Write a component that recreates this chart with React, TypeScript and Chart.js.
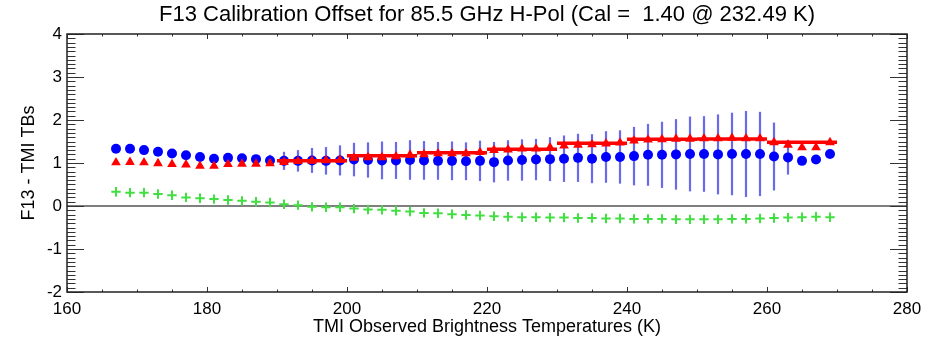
import React, { useEffect, useRef } from 'react';
import { Chart, registerables } from 'chart.js';

Chart.register(...registerables);

const FONT = "'Liberation Sans', Arial, Helvetica, sans-serif";

const titleText = 'F13 Calibration Offset for 85.5 GHz H-Pol (Cal =  1.40 @ 232.49 K)';
const xTitle = 'TMI Observed Brightness Temperatures (K)';
const yTitle = 'F13 - TMI TBs';

const temps = [
  167, 169, 171, 173, 175, 177, 179, 181, 183, 185, 187, 189, 191, 193, 195, 197, 199,
  201, 203, 205, 207, 209, 211, 213, 215, 217, 219, 221, 223, 225, 227, 229, 231, 233,
  235, 237, 239, 241, 243, 245, 247, 249, 251, 253, 255, 257, 259, 261, 263, 265, 267, 269,
];

const blueMeans = [
  1.33, 1.33, 1.30, 1.26, 1.22, 1.18, 1.14, 1.10, 1.12, 1.11, 1.09, 1.06, 1.05, 1.05, 1.06, 1.05, 1.06,
  1.08, 1.07, 1.06, 1.06, 1.07, 1.06, 1.05, 1.05, 1.04, 1.05, 1.02, 1.06, 1.07, 1.08, 1.09, 1.10, 1.12,
  1.10, 1.14, 1.14, 1.16, 1.19, 1.19, 1.20, 1.21, 1.21, 1.20, 1.21, 1.21, 1.21, 1.15, 1.13, 1.05, 1.08, 1.21,
];

const blueErrors: (number | null)[] = [
  null, null, null, null, null, null, null, null, null, null, null, 0.13, 0.21, 0.25, 0.29, 0.32, 0.35,
  0.39, 0.41, 0.44, 0.43, 0.46, 0.45, 0.44, 0.45, 0.44, 0.47, 0.47, 0.47, 0.48, 0.48, 0.51, 0.54, 0.56,
  0.57, 0.60, 0.62, 0.68, 0.72, 0.77, 0.82, 0.87, 0.88, 0.93, 0.96, 1.00, 0.98, 0.79, 0.40, null, null, null,
];

const redValues = [
  1.01, 1.02, 1.01, 0.99, 0.97, 0.96, 0.93, 0.93, 0.97, 0.98, 0.98, 0.99, 1.02, 1.04, 1.05, 1.06, 1.07,
  1.12, 1.13, 1.13, 1.15, 1.19, 1.20, 1.22, 1.22, 1.22, 1.25, 1.30, 1.31, 1.33, 1.33, 1.36, 1.40, 1.42,
  1.43, 1.45, 1.47, 1.52, 1.54, 1.55, 1.56, 1.56, 1.57, 1.57, 1.58, 1.57, 1.57, 1.48, 1.42, 1.36, 1.36, 1.48,
];

const greenValues = [
  0.33, 0.31, 0.31, 0.28, 0.25, 0.20, 0.18, 0.16, 0.14, 0.12, 0.10, 0.08, 0.04, 0.02, -0.02, -0.03, -0.03,
  -0.06, -0.08, -0.09, -0.11, -0.13, -0.16, -0.17, -0.19, -0.21, -0.22, -0.24, -0.25, -0.26, -0.26, -0.27, -0.27, -0.28,
  -0.28, -0.29, -0.29, -0.30, -0.30, -0.30, -0.31, -0.31, -0.31, -0.31, -0.30, -0.30, -0.29, -0.28, -0.27, -0.26, -0.25, -0.26,
];

const binStarts = [190, 200, 210, 220, 230, 240, 250, 260];
const binEnds = [200, 210, 220, 230, 240, 250, 260, 270];
const binValues = [1.05, 1.17, 1.24, 1.32, 1.46, 1.55, 1.56, 1.48];

const xMin = 160;
const xMax = 280;
const yMin = -2;
const yMax = 4;

const plotPlugin = {
  id: 'idlFrame',
  beforeDatasetsDraw(chart: any) {
    const { ctx, chartArea, scales } = chart;
    const xs = scales.x;
    const ys = scales.y;
    ctx.save();
    ctx.strokeStyle = '#000';
    ctx.lineWidth = 1.2;
    ctx.beginPath();
    ctx.moveTo(chartArea.left, ys.getPixelForValue(0));
    ctx.lineTo(chartArea.right, ys.getPixelForValue(0));
    ctx.stroke();
    ctx.strokeStyle = 'rgba(80,80,232,0.85)';
    ctx.lineWidth = 2.2;
    temps.forEach((t, i) => {
      const e = blueErrors[i];
      if (e == null) return;
      const px = xs.getPixelForValue(t);
      ctx.beginPath();
      ctx.moveTo(px, ys.getPixelForValue(blueMeans[i] - e));
      ctx.lineTo(px, ys.getPixelForValue(blueMeans[i] + e));
      ctx.stroke();
    });
    ctx.restore();
  },
  afterDatasetsDraw(chart: any) {
    const { ctx, chartArea, scales } = chart;
    const xs = scales.x;
    const ys = scales.y;
    const { left, right, top, bottom } = chartArea;
    ctx.save();
    ctx.strokeStyle = '#333';
    ctx.lineWidth = 1;
    for (let v = xMin; v <= xMax; v += 5) {
      const px = Math.round(xs.getPixelForValue(v)) + 0.5;
      const len = v % 20 === 0 ? 5 : 2.5;
      ctx.beginPath();
      ctx.moveTo(px, bottom);
      ctx.lineTo(px, bottom - len);
      ctx.moveTo(px, top);
      ctx.lineTo(px, top + len);
      ctx.stroke();
    }
    for (let i = yMin * 10; i <= yMax * 10; i++) {
      const py = Math.round(ys.getPixelForValue(i / 10)) + 0.5;
      const len = i % 10 === 0 ? 17 : 8.5;
      ctx.beginPath();
      ctx.moveTo(left, py);
      ctx.lineTo(left + len, py);
      ctx.moveTo(right, py);
      ctx.lineTo(right - len, py);
      ctx.stroke();
    }
    ctx.strokeStyle = '#222';
    ctx.lineWidth = 1.5;
    ctx.strokeRect(left, top, right - left, bottom - top);
    // title centred over the plot area
    ctx.fillStyle = '#000';
    ctx.font = `22px ${FONT}`;
    ctx.textAlign = 'center';
    ctx.textBaseline = 'middle';
    ctx.fillText(titleText, (left + right) / 2, 15);
    ctx.restore();
  },
};

export default function App() {
  const canvasRef = useRef<HTMLCanvasElement | null>(null);

  useEffect(() => {
    document.body.style.margin = '0';
    const canvas = canvasRef.current;
    if (!canvas) return;

    const stepData: any[] = [];
    binStarts.forEach((s, i) => {
      stepData.push({ x: s, y: binValues[i] });
      stepData.push({ x: binEnds[i], y: binValues[i] });
      stepData.push({ x: binEnds[i], y: null });
    });

    const chart = new Chart(canvas, {
      type: 'scatter',
      data: {
        datasets: [
          {
            type: 'line',
            data: stepData,
            borderColor: '#ff0000',
            borderWidth: 3.5,
            pointRadius: 0,
            spanGaps: false,
            fill: false,
          } as any,
          {
            data: temps.map((t, i) => ({ x: t, y: redValues[i] })),
            pointStyle: 'triangle',
            pointRadius: 5.6,
            backgroundColor: '#ff0000',
            borderColor: '#ff0000',
            borderWidth: 0,
          },
          {
            data: temps.map((t, i) => ({ x: t, y: blueMeans[i] })),
            pointStyle: 'circle',
            pointRadius: 5,
            backgroundColor: '#0000ff',
            borderColor: '#0000ff',
            borderWidth: 0,
          },
          {
            data: temps.map((t, i) => ({ x: t, y: greenValues[i] })),
            pointStyle: 'cross',
            pointRadius: 4.7,
            backgroundColor: '#40e040',
            borderColor: '#40e040',
            borderWidth: 2,
          },
        ],
      },
      options: {
        animation: false,
        responsive: false,
        devicePixelRatio: 1,
        events: [],
        layout: { padding: { left: 0, right: 39, top: 34, bottom: 0 } },
        plugins: {
          legend: { display: false },
          tooltip: { enabled: false },
          title: { display: false },
        },
        scales: {
          x: {
            type: 'linear',
            min: xMin,
            max: xMax,
            grid: { display: false, drawTicks: false },
            border: { display: false },
            ticks: {
              stepSize: 20,
              color: '#000',
              font: { family: FONT, size: 17 },
              padding: 7,
              maxRotation: 0,
              autoSkip: false,
            },
            title: {
              display: true,
              text: xTitle,
              color: '#000',
              font: { family: FONT, size: 18 },
              padding: { top: 0, bottom: 4 },
            },
            afterFit(scale: any) {
              scale.height = 50;
            },
          },
          y: {
            type: 'linear',
            min: yMin,
            max: yMax,
            grid: { display: false, drawTicks: false },
            border: { display: false },
            ticks: {
              stepSize: 1,
              color: '#000',
              font: { family: FONT, size: 17 },
              padding: 5,
              autoSkip: false,
            },
            title: {
              display: true,
              text: yTitle,
              color: '#000',
              font: { family: FONT, size: 18 },
              padding: { top: 18, bottom: 0 },
            },
            afterFit(scale: any) {
              scale.width = 67;
            },
          },
        },
      },
      plugins: [plotPlugin],
    } as any);

    return () => {
      chart.destroy();
    };
  }, []);

  return (
    <div style={{ position: 'absolute', left: 0, top: 0, width: 946, height: 342 }}>
      <canvas ref={canvasRef} width={946} height={342} />
    </div>
  );
}
